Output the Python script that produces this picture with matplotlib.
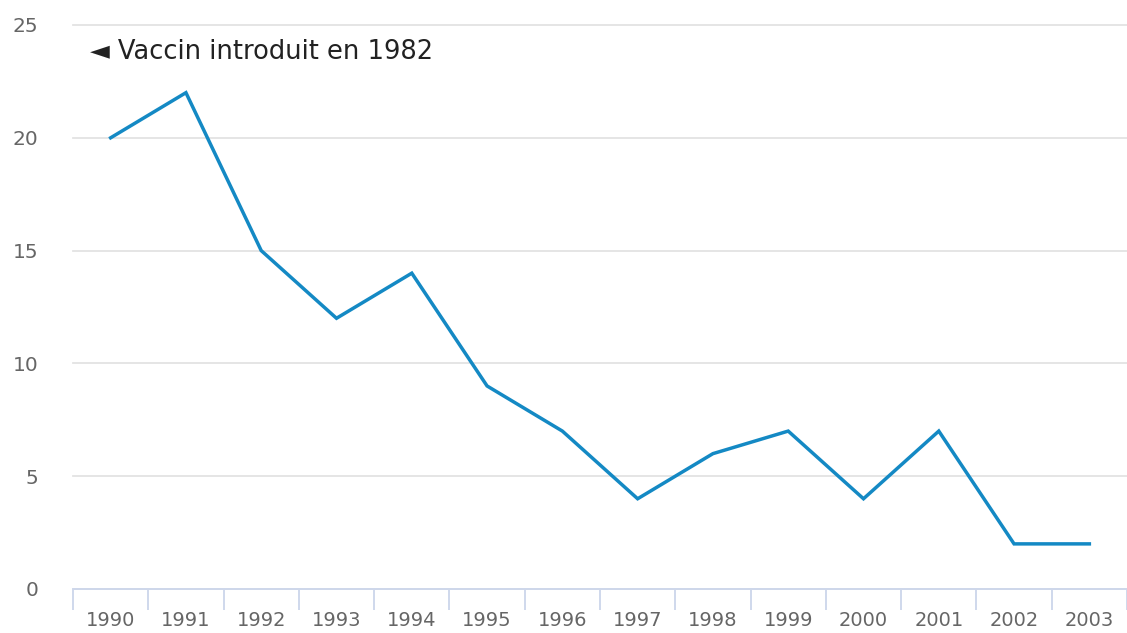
import numpy as np
import matplotlib.pyplot as plt
from matplotlib.ticker import FixedLocator

# données
annees = ['1990', '1991', '1992', '1993', '1994', '1995', '1996',
          '1997', '1998', '1999', '2000', '2001', '2002', '2003']
cas = [20, 22, 15, 12, 14, 9, 7, 4, 6, 7, 4, 7, 2, 2]
y_ticks = [0, 5, 10, 15, 20, 25]
note = '◄ Vaccin introduit en 1982'

plt.rcParams['font.family'] = ['DejaVu Sans']

W, H = 1127, 633
fig = plt.figure(figsize=(W / 100, H / 100), dpi=100)
ax = fig.add_axes([73 / W, (H - 589) / H, 1054 / W, (589 - 25) / H])

x = np.arange(len(annees))
ax.plot(x, cas, color='#1489c4', lw=2.5, solid_joinstyle='miter', zorder=3)

ax.set_xlim(-0.5, len(annees) - 0.5)
ax.set_ylim(0, 25)

# grille horizontale
ax.set_yticks(y_ticks)
ax.set_yticklabels([str(v) for v in y_ticks])
ax.yaxis.grid(True, color='#e3e3e3', lw=1.3)
for g in ax.get_ygridlines():
    g.set_clip_on(False)
ax.set_axisbelow(True)
ax.tick_params(axis='y', length=0, pad=25, labelsize=14.5, labelcolor='#666666')

# axe x: étiquettes au centre, traits entre catégories
ax.set_xticks(x)
ax.set_xticklabels(annees)
ax.tick_params(axis='x', which='major', length=0, pad=16, labelsize=14,
               labelcolor='#666666')
ax.xaxis.set_minor_locator(FixedLocator(np.arange(-0.5, len(annees), 1.0)))
ax.tick_params(axis='x', which='minor', length=15, width=1.3, color='#ccd6eb')

for s in ['top', 'right', 'left']:
    ax.spines[s].set_visible(False)
ax.spines['bottom'].set_color('#ccd6eb')
ax.spines['bottom'].set_linewidth(1.3)

ax.text(-0.28, 23.8, note, fontsize=18.5, color='#222222', va='center', ha='left')

fig.savefig('out.png', dpi=100)
